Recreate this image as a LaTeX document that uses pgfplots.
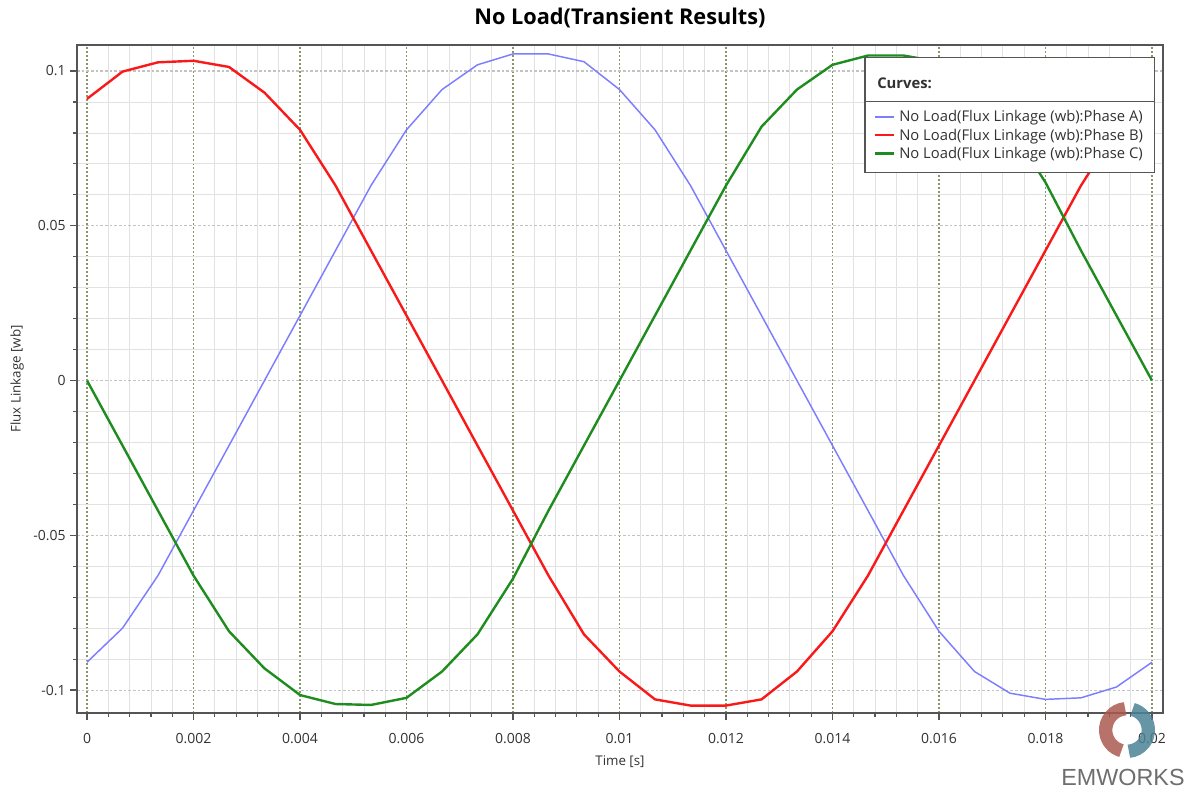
\documentclass[border=0pt]{standalone}
\usepackage{pgfplots}
\pgfplotsset{compat=1.18}
\usepackage{fontspec}
\setmainfont{Open Sans}
\newfontfamily\logofont{Liberation Sans}

\definecolor{axisgray}{RGB}{85,85,85}
\definecolor{ticktext}{RGB}{50,50,50}
\definecolor{minorgrid}{RGB}{226,226,226}
\definecolor{majorygrid}{RGB}{195,195,195}
\definecolor{majorxgrid}{RGB}{135,150,105}
\definecolor{phaseA}{RGB}{125,125,255}
\definecolor{phaseB}{RGB}{250,25,25}
\definecolor{phaseC}{RGB}{30,140,30}
\definecolor{logored}{RGB}{170,90,80}
\definecolor{logoteal}{RGB}{75,130,150}
\definecolor{logotext}{RGB}{110,110,110}

\newcommand\lstr{\rule{0pt}{9.3pt}}

\pgfplotstableread{
t a b c
0        -0.0910  0.0910  0.0000
0.000667 -0.0800  0.0998 -0.0210
0.001333 -0.0630  0.1028 -0.0420
0.002    -0.0420  0.1033 -0.0630
0.002667 -0.0210  0.1013 -0.0810
0.003333  0.0000  0.0930 -0.0930
0.004     0.0210  0.0810 -0.1016
0.004667  0.0420  0.0630 -0.1045
0.005333  0.0630  0.0420 -0.1048
0.006     0.0810  0.0210 -0.1025
0.006667  0.0940  0.0000 -0.0940
0.007333  0.1020 -0.0210 -0.0820
0.008     0.1055 -0.0420 -0.0640
0.008667  0.1055 -0.0630 -0.0420
0.009333  0.1030 -0.0820 -0.0210
0.01      0.0940 -0.0940  0.0000
0.010667  0.0810 -0.1030  0.0210
0.011333  0.0630 -0.1050  0.0420
0.012     0.0420 -0.1050  0.0630
0.012667  0.0210 -0.1030  0.0820
0.013333  0.0000 -0.0940  0.0940
0.014    -0.0210 -0.0810  0.1020
0.014667 -0.0420 -0.0630  0.1050
0.015333 -0.0630 -0.0420  0.1050
0.016    -0.0810 -0.0210  0.1030
0.016667 -0.0940  0.0000  0.0940
0.017333 -0.1010  0.0210  0.0820
0.018    -0.1030  0.0420  0.0640
0.018667 -0.1025  0.0630  0.0420
0.019333 -0.0990  0.0810  0.0210
0.02     -0.0910  0.0910  0.0000
}\fluxdata

\begin{document}
\begin{tikzpicture}
\useasboundingbox (-57.75pt,-57pt) rectangle (840pt,534.75pt);
\begin{axis}[
name=ax,
scale only axis,
width=814.5pt, height=501pt,
xmin=-0.000188, xmax=0.020207,
ymin=-0.1074, ymax=0.1084,
xtick={0,0.002,0.004,0.006,0.008,0.01,0.012,0.014,0.016,0.018,0.02},
xticklabels={0,0.002,0.004,0.006,0.008,0.01,0.012,0.014,0.016,0.018,0.02},
ytick={-0.1,-0.05,0,0.05,0.1},
yticklabels={-0.1,-0.05,0,0.05,0.1},
minor x tick num=4,
minor y tick num=4,
scaled x ticks=false, scaled y ticks=false,
tick pos=left,
tick align=outside,
major tick length=5pt,
minor tick length=3pt,
tick style={color=axisgray, line width=0.9pt},
axis line style={color=axisgray, line width=1.3pt},
ticklabel style={font=\fontsize{10.5}{12}\selectfont, text=ticktext},
xticklabel style={yshift=-6.5pt},
xmajorgrids, ymajorgrids, xminorgrids, yminorgrids,
minor x grid style={color=minorgrid, line width=0.6pt},
minor y grid style={color=minorgrid, line width=0.6pt},
major x grid style={color=majorxgrid, line width=1.2pt, dash pattern=on 1.5pt off 1.5pt},
major y grid style={color=majorygrid, line width=0.8pt, dash pattern=on 2pt off 1.5pt},
every axis title shift=0pt,
title={No Load(Transient Results)},
title style={font=\fontsize{16.3}{18}\selectfont\bfseries, at={(axis description cs:0.5,1.0404)}, anchor=center, yshift=0pt},
xlabel={Time [s]},
xlabel style={font=\fontsize{10}{12}\selectfont, text=ticktext, at={(axis description cs:0.5,-0.0734)}, anchor=center},
ylabel={Flux Linkage [wb]},
ylabel style={font=\fontsize{10}{12}\selectfont, text=ticktext, at={(axis description cs:-0.0552,0.5)}, anchor=center},
legend cell align=left,
legend style={at={(0.99263,0.98204)}, anchor=north east, draw=axisgray, line width=0.9pt, fill=white,
  font=\fontsize{11.1}{13}\selectfont, text=ticktext, row sep=0pt, inner xsep=7pt, inner ysep=3pt,
  nodes={inner sep=1.5pt}},
legend image code/.code={\draw[#1] (0pt,0pt) -- (14pt,0pt); \path (15.5pt,0pt);},
]
\addlegendimage{empty legend}
\addlegendentry{\hspace{-16.5pt}\textbf{Curves:}\rule{0pt}{19pt}}
\addlegendimage{empty legend}
\addlegendentry{\rule{0pt}{6.5pt}}
\addplot [color=phaseA, line width=1.1pt] table [x=t, y=a] {\fluxdata};
\addlegendentry{No Load(Flux Linkage (wb):Phase A)\lstr}
\addplot [color=phaseB, line width=1.8pt] table [x=t, y=b] {\fluxdata};
\addlegendentry{No Load(Flux Linkage (wb):Phase B)\lstr}
\addplot [color=phaseC, line width=1.8pt] table [x=t, y=c] {\fluxdata};
\addlegendentry{No Load(Flux Linkage (wb):Phase C)\lstr}
\addlegendimage{empty legend}
\addlegendentry{}
\coordinate (s1) at (axis description cs:0.7247,0.916);
\coordinate (s2) at (axis description cs:0.99263,0.916);
\end{axis}
\draw[color=axisgray, line width=0.6pt] (s1) -- (s2);
% EMWORKS watermark
\begin{scope}[shift={(787.5pt,-12.75pt)}, opacity=0.85]
\draw[logored, line width=10pt] (95:16pt) arc (95:255:16pt);
\draw[logoteal, line width=10pt] (-85:16pt) arc (-85:75:16pt);
\end{scope}
\node[font=\logofont\fontsize{17.5}{20}\selectfont, text=logotext, anchor=center] at (784.5pt,-48pt) {EMWORKS};
\end{tikzpicture}
\end{document}
